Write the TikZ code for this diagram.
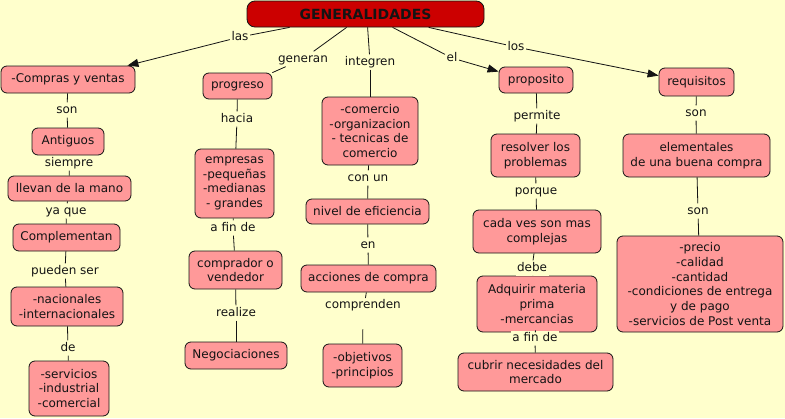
\documentclass[tikz,border=0pt]{standalone}
\usepackage{fontspec}
\setmainfont{DejaVu Sans}
\usetikzlibrary{arrows.meta}
\definecolor{bg}{RGB}{255,255,204}
\definecolor{boxfill}{RGB}{255,153,153}
\definecolor{titlefill}{RGB}{204,0,0}
\definecolor{ink}{RGB}{20,20,20}
\begin{document}
\begin{tikzpicture}[x=1pt,y=-1pt,
  cbox/.style={draw=ink, line width=0.8pt, fill=boxfill, rounded corners=6pt, align=center, inner sep=0pt, font=\fontsize{12}{14.7}\selectfont, text=ink},
  lab/.style={fill=bg, inner sep=1.5pt, text height=9pt, text depth=3pt, font=\fontsize{12}{14.7}\selectfont, text=ink},
  conn/.style={draw=ink, line width=0.8pt},
  arr/.style={conn, -{Triangle[length=11pt,width=8pt]}}
]
\fill[bg] (0,0) rectangle (785,418);
\useasboundingbox (0,0) rectangle (785,418);

% title
\node[draw=ink, line width=0.8pt, fill=titlefill, rounded corners=8pt, minimum width=237pt, minimum height=26pt, inner sep=0pt, font=\bfseries\fontsize{14}{16}\selectfont, text=ink] (gen) at (365.5,14) {GENERALIDADES};

% column 1
\node[cbox, minimum width=134pt, minimum height=27pt] (cv) at (68,79.5) {-Compras y ventas};
\node[cbox, minimum width=72pt, minimum height=27pt] (ant) at (68,141.5) {Antiguos};
\node[cbox, minimum width=123pt, minimum height=25pt] (llev) at (69.5,188.5) {llevan de la mano};
\node[cbox, minimum width=107pt, minimum height=27pt] (comp) at (66.5,237.5) {Complementan};
\node[cbox, minimum width=112pt, minimum height=39pt] (nac) at (67,306.5) {-nacionales\\-internacionales};
\node[cbox, minimum width=80pt, minimum height=55pt] (serv) at (69,388.5) {-servicios\\-industrial\\-comercial};

% column 2
\node[cbox, minimum width=69pt, minimum height=26pt] (prog) at (237.5,86) {progreso};
\node[cbox, minimum width=79pt, minimum height=69pt] (emp) at (234.5,183.5) {empresas\\-pequeñas\\-medianas\\- grandes};
\node[cbox, minimum width=93pt, minimum height=38pt] (compr) at (235.5,270) {comprador o\\vendedor};
\node[cbox, minimum width=102pt, minimum height=27pt] (neg) at (236,355.5) {Negociaciones};

% column 3
\node[cbox, minimum width=96pt, minimum height=68pt] (com) at (370,131) {-comercio\\-organizacion\\- tecnicas de\\comercio};
\node[cbox, minimum width=123pt, minimum height=25pt] (niv) at (367.5,211.5) {nivel de eficiencia};
\node[cbox, minimum width=135pt, minimum height=27pt] (acc) at (368.5,278.5) {acciones de compra};
\node[cbox, minimum width=79pt, minimum height=43pt] (obj) at (362.5,365.5) {-objetivos\\-principios};

% column 4
\node[cbox, minimum width=74pt, minimum height=26pt] (prop) at (536,80) {proposito};
\node[cbox, minimum width=89pt, minimum height=43pt] (res) at (535.5,155.5) {resolver los\\problemas};
\node[cbox, minimum width=128pt, minimum height=43pt] (cada) at (537,231.5) {cada ves son mas\\complejas};
\node[cbox, minimum width=120pt, minimum height=56pt] (adq) at (537,304) {Adquirir materia\\prima\\-mercancias};
\node[cbox, minimum width=155pt, minimum height=38pt] (cub) at (535.5,372) {cubrir necesidades del\\mercado};

% column 5
\node[cbox, minimum width=75pt, minimum height=28pt] (req) at (696.5,82) {requisitos};
\node[cbox, minimum width=147pt, minimum height=43pt] (elem) at (696.5,155.5) {elementales\\de una buena compra};
\node[cbox, minimum width=166pt, minimum height=96pt] (prec) at (700,284) {-precio\\-calidad\\-cantidad\\-condiciones de entrega\\y de pago\\-servicios de Post venta};

% labels
\node[lab] (las) at (240,37) {las};
\node[lab] (generan) at (303,59) {generan};
\node[lab] (integren) at (370,62) {integren};
\node[lab] (el) at (452,58) {el};
\node[lab] (los) at (516,47) {los};
\node[lab] (son1) at (67,110) {son};
\node[lab] (siempre) at (69,163) {siempre};
\node[lab] (yaque) at (66,211) {ya que};
\node[lab] (pueden) at (65,271) {pueden ser};
\node[lab] (de) at (68,348) {de};
\node[lab] (hacia) at (237,119) {hacia};
\node[lab] (afin1) at (233,228) {a fin de};
\node[lab] (realize) at (236,313) {realize};
\node[lab] (conun) at (368,178) {con un};
\node[lab] (en) at (368,245) {en};
\node[lab, text depth=19pt, anchor=north] (compren) at (363,298) {comprenden};
\node[lab] (permite) at (537,116) {permite};
\node[lab] (porque) at (536,191) {porque};
\node[lab] (debe) at (532,268) {debe};
\node[lab] (afin2) at (535,338) {a fin de};
\node[lab] (son2) at (696,113) {son};
\node[lab] (son3) at (698,211) {son};

% connectors from title
\coordinate (g1) at ([xshift=43pt]gen.south west);
\coordinate (g2) at ([xshift=100pt]gen.south west);
\coordinate (g3) at ([xshift=121pt]gen.south west);
\coordinate (g4) at ([xshift=146pt]gen.south west);
\coordinate (g5) at ([xshift=182pt]gen.south west);
\draw[conn] (g1) -- (las);
\draw[arr] (las) -- ([xshift=-8pt]cv.north east);
\draw[conn] (g2) -- (generan);
\draw[conn] (generan) -- (prog.north east);
\draw[conn] (g3) -- (integren);
\draw[conn] (integren) -- (com);
\draw[conn] (g4) -- (el);
\draw[arr] (el) -- ([yshift=-5pt]prop.north west);
\draw[conn] (g5) -- (los);
\draw[arr] (los) -- ([yshift=-8pt]req.north west);

% column 1
\draw[conn] (cv) -- (son1);   \draw[conn] (son1) -- (ant);
\draw[conn] (ant) -- (siempre); \draw[conn] (siempre) -- (llev);
\draw[conn] (llev) -- (yaque); \draw[conn] (yaque) -- (comp);
\draw[conn] (comp) -- (pueden); \draw[conn] (pueden) -- (nac);
\draw[conn] (nac) -- (de); \draw[conn] (de) -- (serv);

% column 2
\draw[conn] (prog) -- (hacia); \draw[conn] (hacia) -- (emp);
\draw[conn] (emp) -- (afin1); \draw[conn] (afin1) -- (compr);
\draw[conn] (compr) -- (realize); \draw[conn] (realize) -- (neg);

% column 3
\draw[conn] (com) -- (conun); \draw[conn] (conun) -- (niv);
\draw[conn] (niv) -- (en); \draw[conn] (en) -- (acc);
\draw[conn] (acc) -- (compren); \draw[conn] (compren) -- (obj);

% column 4
\draw[conn] (prop) -- (permite); \draw[conn] (permite) -- (res);
\draw[conn] (res) -- (porque); \draw[conn] (porque) -- (cada);
\draw[conn] (cada) -- (debe); \draw[conn] (debe) -- (adq);
\draw[conn] (adq) -- (afin2); \draw[conn] (afin2) -- (cub);

% column 5
\draw[conn] (req) -- (son2); \draw[conn] (son2) -- (elem);
\draw[conn] (elem) -- (son3); \draw[conn] (son3) -- (prec);
\end{tikzpicture}
\end{document}
